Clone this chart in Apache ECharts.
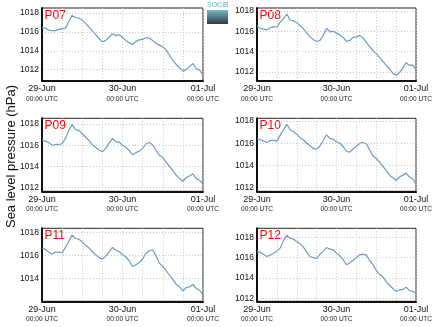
<!DOCTYPE html>
<html><head><meta charset="utf-8">
<script src="https://cdn.jsdelivr.net/npm/echarts@6/dist/echarts.min.js"></script>
<style>html,body{margin:0;padding:0;background:#fff}#c{width:435px;height:327px}</style>
</head><body><div id="c"></div>
<script>
// hours since 29-Jun 00:00 UTC
const hours = Array.from({length: 49}, (_, i) => i);
const tickHours = [0, 24, 48];
const tickDates = ['29-Jun', '30-Jun', '01-Jul'];
const tickTime = '00:00 UTC';
const yTicks = [1012, 1014, 1016, 1018];
const stations = ['P07', 'P08', 'P09', 'P10', 'P11', 'P12'];

const P07 = [1016.48,1016.4,1016.2,1016.13,1016.13,1016.27,1016.35,1016.4,1017.1,1017.75,1017.5,1017.45,1017.25,1016.9,1016.5,1016.1,1015.7,1015.3,1014.95,1015.1,1015.45,1015.8,1015.6,1015.7,1015.4,1015.1,1014.85,1014.65,1015.0,1015.15,1015.2,1015.4,1015.35,1015.1,1014.8,1014.6,1014.4,1014.1,1013.55,1013.0,1012.55,1012.2,1011.85,1012.0,1012.35,1012.65,1012.1,1011.95,1011.45];
const P08 = [1016.52,1016.3,1016.22,1016.15,1016.33,1016.46,1016.4,1016.9,1017.25,1017.7,1017.1,1017.05,1016.85,1016.58,1016.25,1015.85,1015.45,1015.18,1015.0,1015.1,1015.6,1016.3,1015.95,1016.0,1015.8,1015.65,1015.4,1015.0,1015.1,1015.4,1015.45,1015.6,1015.35,1014.9,1014.5,1014.1,1013.8,1013.4,1013.05,1012.65,1012.3,1011.85,1011.67,1011.95,1012.35,1012.9,1012.65,1012.66,1012.2];
const P09 = [1016.45,1016.39,1016.26,1016.0,1016.07,1016.07,1016.14,1016.64,1017.4,1017.97,1017.46,1017.4,1017.08,1016.75,1016.45,1016.05,1015.8,1015.55,1015.38,1015.7,1016.2,1016.65,1016.33,1016.3,1016.0,1015.8,1015.5,1015.08,1015.3,1015.44,1015.7,1016.14,1016.26,1016.05,1015.5,1015.06,1014.85,1014.4,1014.0,1013.6,1013.17,1012.85,1012.6,1012.95,1013.1,1013.3,1012.85,1012.7,1012.3];
const P10 = [1016.43,1016.31,1016.19,1016.07,1016.25,1016.25,1016.19,1016.73,1017.22,1017.7,1017.22,1017.04,1016.8,1016.5,1016.31,1016.0,1015.77,1015.53,1015.47,1015.75,1016.25,1016.75,1016.43,1016.37,1016.13,1016.0,1015.7,1015.25,1015.2,1015.5,1015.7,1016.0,1016.07,1015.95,1015.4,1014.85,1014.62,1014.3,1013.9,1013.55,1013.12,1012.88,1012.64,1012.95,1013.12,1013.3,1012.95,1012.8,1012.27];
const P11 = [1016.65,1016.53,1016.3,1016.12,1016.3,1016.3,1016.24,1016.7,1017.24,1017.76,1017.47,1017.41,1017.18,1016.88,1016.65,1016.35,1016.06,1015.82,1015.7,1015.95,1016.3,1016.7,1016.47,1016.35,1016.06,1015.88,1015.53,1015.05,1015.2,1015.4,1015.7,1016.2,1016.41,1016.5,1015.95,1015.35,1015.06,1014.7,1014.3,1013.94,1013.53,1013.3,1012.95,1013.24,1013.3,1013.5,1013.15,1013.0,1012.55];
const P12 = [1016.65,1016.52,1016.32,1016.12,1016.25,1016.45,1016.65,1016.95,1017.7,1018.2,1017.9,1017.84,1017.57,1017.37,1017.04,1016.58,1016.12,1016.0,1015.92,1016.35,1016.65,1017.0,1016.85,1016.78,1016.45,1016.19,1015.8,1015.3,1015.5,1015.75,1016.0,1016.3,1016.32,1016.25,1015.72,1015.33,1014.74,1014.34,1014.14,1013.62,1013.28,1012.96,1012.69,1012.82,1012.85,1013.1,1012.76,1012.69,1012.43];
const seriesValues = [P07, P08, P09, P10, P11, P12];

// axis extents
const yMin = [1010.8, 1011.1, 1011.65, 1011.66, 1012.05, 1011.7];
const yMax = [1018.53, 1018.3, 1018.54, 1018.25, 1018.35, 1018.9];

const colLeft = [42, 257];
const colWidth = [161, 160.5];
const rowTop = [8, 118.3, 228.3];
const gridH = 73;

const chart = echarts.init(document.getElementById('c'), null, {renderer: 'canvas'});
const grid = [], xAxis = [], yAxis = [], series = [], graphic = [];
const FONT = 'Liberation Sans, Arial, sans-serif';

stations.forEach((name, i) => {
  const col = i % 2, row = Math.floor(i / 2);
  grid.push({left: colLeft[col], top: rowTop[row], width: colWidth[col], height: gridH,
    show: true, borderColor: '#222', borderWidth: 1, containLabel: false});
  xAxis.push({type: 'value', gridIndex: i, min: 0, max: 48, interval: 6,
    axisLine: {show: true, onZero: false, lineStyle: {color: '#111', width: 2}},
    axisTick: {show: false},
    splitLine: {show: true, lineStyle: {color: '#c8c8c8', type: [1, 2], width: 1}},
    axisLabel: {
      margin: 3, fontFamily: FONT, color: '#111',
      showMinLabel: true, showMaxLabel: true,
      formatter: v => {
        const k = tickHours.indexOf(v);
        return k < 0 ? '' : '{a|' + tickDates[k] + '}\n{b|' + tickTime + '}';
      },
      rich: {
        a: {fontSize: 9, lineHeight: 10, fontFamily: FONT, color: '#111'},
        b: {fontSize: 6.6, lineHeight: 10, fontFamily: FONT, color: '#222'}
      }
    }
  });
  const ticks = yTicks.filter(t => t >= yMin[i] && t <= yMax[i]);
  yAxis.push({type: 'value', gridIndex: i, min: yMin[i], max: yMax[i],
    axisLine: {show: true, lineStyle: {color: '#111', width: 2}},
    axisTick: {show: false, customValues: ticks},
    splitLine: {show: true, lineStyle: {color: '#c8c8c8', type: [1, 2], width: 1}},
    axisLabel: {customValues: ticks, margin: 3, fontSize: 8.5, fontFamily: FONT, color: '#111',
      formatter: v => String(Math.round(v))}
  });
  series.push({type: 'line', xAxisIndex: i, yAxisIndex: i, showSymbol: false, symbol: 'none',
    lineStyle: {color: '#6b9bc8', width: 1.2}, animation: false,
    data: hours.map((h, j) => [h, seriesValues[i][j]])});
  graphic.push({type: 'text', left: colLeft[col] + 2.5, top: rowTop[row] + 1.5,
    style: {text: name, fill: '#ff0000', fontSize: 12, fontFamily: FONT}});
});

graphic.push({type: 'text', left: 207, top: 2,
  style: {text: 'SOCIB', fill: '#45bcd2', fontSize: 7, fontFamily: FONT}});
graphic.push({type: 'rect', left: 207, top: 10, shape: {width: 21, height: 14},
  style: {fill: new echarts.graphic.LinearGradient(0, 0, 0, 1, [
    {offset: 0, color: '#79b7c6'}, {offset: 1, color: '#2e3a44'}])}});
graphic.push({type: 'text', rotation: Math.PI / 2, x: 11, y: 156.5,
  style: {text: 'Sea level pressure (hPa)', fill: '#111', fontSize: 13, fontFamily: FONT,
    align: 'center', verticalAlign: 'middle'}});

chart.setOption({animation: false, backgroundColor: '#fff', grid, xAxis, yAxis, series, graphic});
</script></body></html>
